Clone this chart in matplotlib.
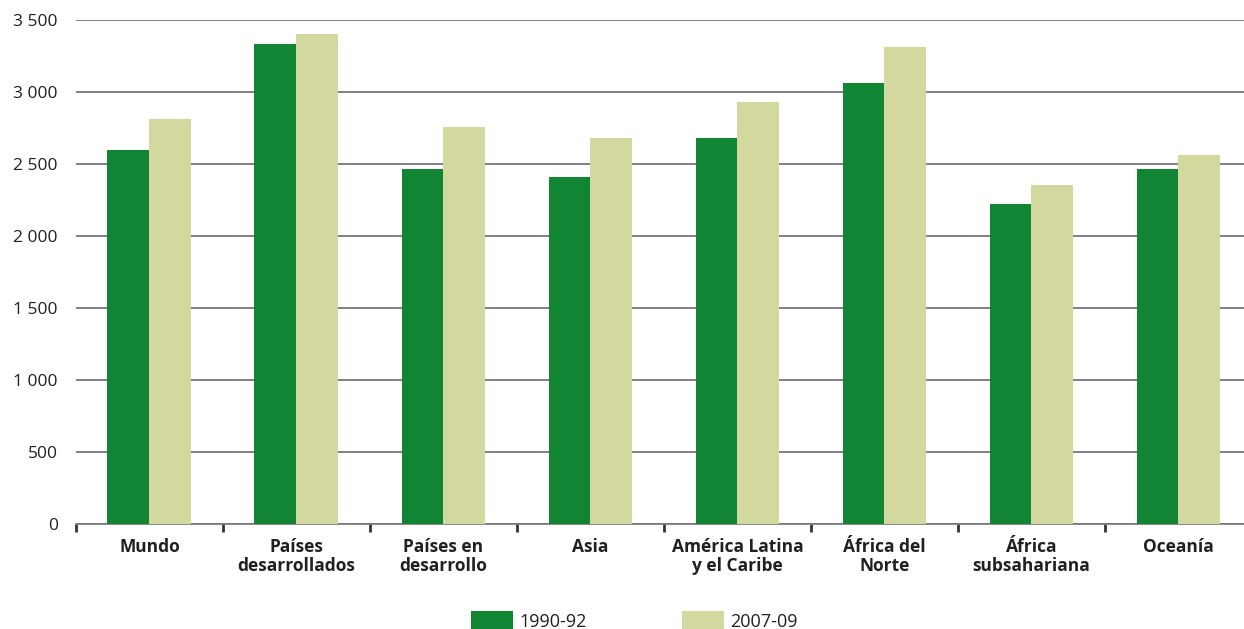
import numpy as np
import matplotlib.pyplot as plt
from matplotlib.patches import Patch
from matplotlib.ticker import FuncFormatter, FixedLocator

plt.rcParams["font.family"] = ["Open Sans", "DejaVu Sans"]

categories = [
    "Mundo", "Países\ndesarrollados", "Países en\ndesarrollo", "Asia",
    "América Latina\ny el Caribe", "África del\nNorte", "África\nsubsahariana",
    "Oceanía",
]
series_names = ["1990-92", "2007-09"]
values_1990 = [2600, 3330, 2465, 2410, 2680, 3060, 2220, 2465]
values_2007 = [2810, 3405, 2755, 2680, 2930, 3310, 2355, 2560]

DARK = "#128535"
LIGHT = "#d3d89e"
TEXT = "#231f20"


def thousands(v, _):
    return f"{int(v):,}".replace(",", " ")


fig = plt.figure(figsize=(12.44, 6.29), dpi=100)
ax = fig.add_axes([0.061, 0.1669, 0.939, 0.8013])

x = np.arange(len(categories))
w = 0.285
ax.bar(x - w / 2, values_1990, w, color=DARK, zorder=3)
ax.bar(x + w / 2, values_2007, w, color=LIGHT, zorder=3)

ax.set_xlim(-0.5, 7.446)
ax.set_ylim(0, 3500)
ax.set_yticks(np.arange(0, 3501, 500))
ax.yaxis.set_major_formatter(FuncFormatter(thousands))
ax.grid(axis="y", color="#5e5e5e", linewidth=1.1, zorder=0)

for side in ("left", "right", "top"):
    ax.spines[side].set_visible(False)
ax.spines["bottom"].set_color("#777777")
ax.spines["bottom"].set_linewidth(1.2)

ax.set_xticks(x)
ax.set_xticklabels(categories, fontsize=12.5, fontweight="bold", color=TEXT,
                   linespacing=1.05)
ax.tick_params(axis="x", which="major", length=0, pad=10)
ax.xaxis.set_minor_locator(FixedLocator(np.arange(-0.5, 8, 1.0)))
ax.tick_params(axis="x", which="minor", length=6, width=2, color="#333333")
ax.tick_params(axis="y", length=0, pad=13, labelsize=12.5, labelcolor=TEXT)

handles = [Patch(facecolor=DARK), Patch(facecolor=LIGHT)]
fig.legend(handles, series_names, loc="center", bbox_to_anchor=(0.51, 0.013),
           ncol=2, frameon=False, fontsize=13, handlelength=2.3,
           handleheight=1.3, handletextpad=0.35, columnspacing=5.3,
           labelcolor=TEXT)

fig.savefig("out.png", dpi=100)
